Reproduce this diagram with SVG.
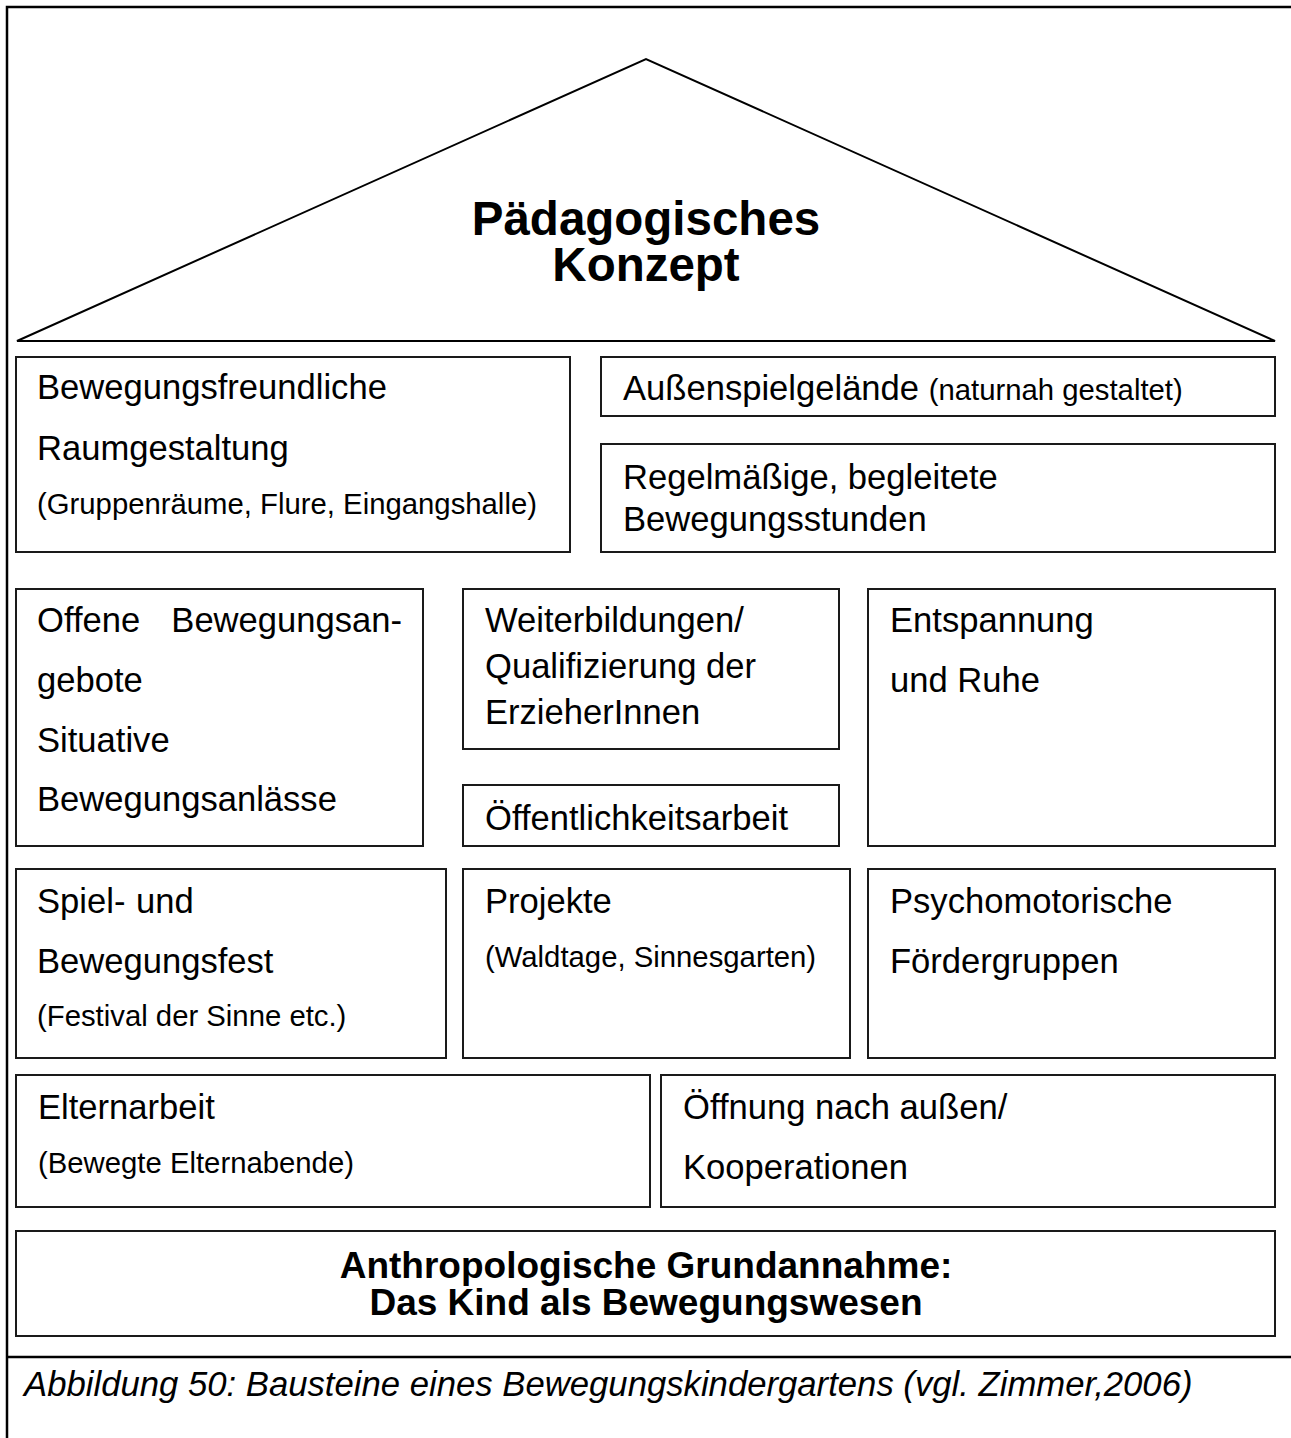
<svg xmlns="http://www.w3.org/2000/svg" width="1291" height="1438" viewBox="0 0 1291 1438">
<style>
.frame{fill:none;stroke:#000;stroke-width:2.5}
.roof{fill:none;stroke:#000;stroke-width:2}
.box{fill:#fff;stroke:#1a1a1a;stroke-width:2}
.t{font-family:"Liberation Sans",Arial,sans-serif;font-size:34.6px;fill:#000}
.s{font-size:29.3px}
.b{font-family:"Liberation Sans",Arial,sans-serif;font-weight:bold;fill:#000;text-anchor:middle}
.cap{font-family:"Liberation Sans",Arial,sans-serif;font-style:italic;font-size:34.7px;fill:#000}
</style>
<rect width="1291" height="1438" fill="#fff"/>
<g id="frame">
<path class="frame" d="M7,1438 V7 H1291"/>
<path class="frame" d="M7,1357 H1291"/>
</g>
<g id="roof">
<polygon class="roof" points="17,341 646,59 1275,341"/>
<text class="b" font-size="47.5" x="646" y="235">Pädagogisches</text>
<text class="b" font-size="47.5" x="646" y="281">Konzept</text>
</g>
<g id="raumgestaltung">
<rect class="box" x="16" y="357" width="554" height="195"/>
<text class="t" x="37" y="399">Bewegungsfreundliche</text>
<text class="t" x="37" y="460">Raumgestaltung</text>
<text class="t s" x="37" y="514">(Gruppenräume, Flure, Eingangshalle)</text>
</g>
<g id="aussenspiel">
<rect class="box" x="601" y="357" width="674" height="59"/>
<text class="t" x="623" y="400">Außenspielgelände <tspan class="s">(naturnah gestaltet)</tspan></text>
</g>
<g id="bewegungsstunden">
<rect class="box" x="601" y="444" width="674" height="108"/>
<text class="t" x="623" y="489">Regelmäßige, begleitete</text>
<text class="t" x="623" y="531">Bewegungsstunden</text>
</g>
<g id="offene">
<rect class="box" x="16" y="589" width="407" height="257"/>
<text class="t" x="37" y="632">Offene</text>
<text class="t" x="402" y="632" text-anchor="end">Bewegungsan-</text>
<text class="t" x="37" y="692">gebote</text>
<text class="t" x="37" y="752">Situative</text>
<text class="t" x="37" y="811">Bewegungsanlässe</text>
</g>
<g id="weiterbildung">
<rect class="box" x="463" y="589" width="376" height="160"/>
<text class="t" x="485" y="632">Weiterbildungen/</text>
<text class="t" x="485" y="678">Qualifizierung der</text>
<text class="t" x="485" y="724">ErzieherInnen</text>
</g>
<g id="oeffentlichkeit">
<rect class="box" x="463" y="785" width="376" height="61"/>
<text class="t" x="485" y="830">Öffentlichkeitsarbeit</text>
</g>
<g id="entspannung">
<rect class="box" x="868" y="589" width="407" height="257"/>
<text class="t" x="890" y="632">Entspannung</text>
<text class="t" x="890" y="692">und Ruhe</text>
</g>
<g id="spielfest">
<rect class="box" x="16" y="869" width="430" height="189"/>
<text class="t" x="37" y="913">Spiel-</text>
<text class="t" x="136" y="913">und</text>
<text class="t" x="37" y="973">Bewegungsfest</text>
<text class="t s" x="37" y="1026">(Festival der Sinne etc.)</text>
</g>
<g id="projekte">
<rect class="box" x="463" y="869" width="387" height="189"/>
<text class="t" x="485" y="913">Projekte</text>
<text class="t s" x="485" y="967">(Waldtage, Sinnesgarten)</text>
</g>
<g id="psychomotorik">
<rect class="box" x="868" y="869" width="407" height="189"/>
<text class="t" x="890" y="913">Psychomotorische</text>
<text class="t" x="890" y="973">Fördergruppen</text>
</g>
<g id="elternarbeit">
<rect class="box" x="16" y="1075" width="634" height="132"/>
<text class="t" x="38" y="1119">Elternarbeit</text>
<text class="t s" x="38" y="1173">(Bewegte Elternabende)</text>
</g>
<g id="oeffnung">
<rect class="box" x="661" y="1075" width="614" height="132"/>
<text class="t" x="683" y="1119">Öffnung nach außen/</text>
<text class="t" x="683" y="1179">Kooperationen</text>
</g>
<g id="grundannahme">
<rect class="box" x="16" y="1231" width="1259" height="105"/>
<text class="b" font-size="37" x="646" y="1278">Anthropologische Grundannahme:</text>
<text class="b" font-size="37" x="646" y="1315">Das Kind als Bewegungswesen</text>
</g>
<g id="caption">
<text class="cap" x="24" y="1396">Abbildung 50: Bausteine eines Bewegungskindergartens (vgl. Zimmer,2006)</text>
</g>
</svg>
